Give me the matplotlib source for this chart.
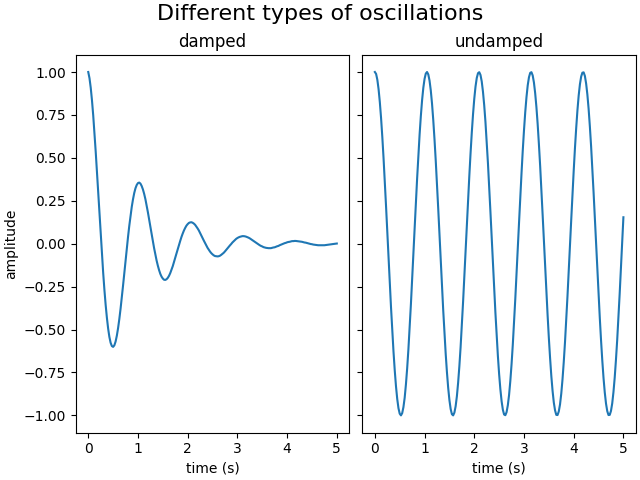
import matplotlib.pyplot as plt
import numpy as np

undamped = [
    1.000, 0.989, 0.955, 0.900, 0.825, 0.732, 0.622, 0.498, 0.362, 0.219,
    0.071, -0.079, -0.227, -0.370, -0.505, -0.628, -0.737, -0.830, -0.904, -0.958,
    -0.990, -1.000, -0.987, -0.952, -0.897, -0.820, -0.726, -0.615, -0.490, -0.354,
    -0.211, -0.062, 0.087, 0.235, 0.378, 0.512, 0.635, 0.743, 0.835, 0.908,
    0.960, 0.991, 1.000, 0.986, 0.950, 0.893, 0.816, 0.720, 0.608, 0.483,
    0.346, 0.203, 0.054, -0.096, -0.244, -0.386, -0.519, -0.641, -0.748, -0.839,
    -0.911, -0.963, -0.993, -1.000, -0.984, -0.947, -0.889, -0.810, -0.714, -0.602,
    -0.475, -0.338, -0.195, -0.045, 0.104, 0.251, 0.393, 0.526, 0.647, 0.754,
    0.844, 0.915, 0.965, 0.993, 0.999, 0.983, 0.945, 0.885, 0.806, 0.709,
    0.594, 0.469, 0.330, 0.186, 0.037, -0.112, -0.260, -0.401, -0.533, -0.654,
    -0.760, -0.848, -0.918, -0.967, -0.995, -0.999, -0.981, -0.941, -0.881, -0.800,
    -0.702, -0.588, -0.460, -0.322, -0.178, -0.028, 0.120, 0.267, 0.408, 0.541,
    0.660, 0.765, 0.853, 0.922, 0.969, 0.995, 0.999, 0.980, 0.939, 0.877,
    0.796, 0.697, 0.581, 0.454, 0.314, 0.169, 0.020, -0.129, -0.276, -0.416,
    -0.548, -0.666, -0.771, -0.857, -0.925, -0.971, -0.997, -0.998, -0.977, -0.936,
    -0.873, -0.790, -0.689, -0.574, -0.445, -0.306, -0.162, -0.012, 0.137, 0.284,
    0.424, 0.555, 0.672, 0.776, 0.862, 0.928, 0.973, 0.996, 0.998, 0.977,
    0.933, 0.869, 0.786, 0.684, 0.568, 0.439, 0.299, 0.153, 0.004, -0.146,
    -0.292, -0.432, -0.562, -0.679, -0.782, -0.866, -0.931, -0.975, -0.998, -0.997,
    -0.974, -0.930, -0.864, -0.780, -0.677, -0.561, -0.429, -0.291, -0.145, 0.005,
    0.154,
]

damped = [
    1.000, 0.964, 0.908, 0.835, 0.747, 0.646, 0.536, 0.418, 0.296, 0.175,
    0.055, -0.060, -0.168, -0.268, -0.356, -0.431, -0.494, -0.543, -0.577, -0.596,
    -0.601, -0.592, -0.570, -0.536, -0.492, -0.439, -0.379, -0.313, -0.244, -0.172,
    -0.100, -0.029, 0.039, 0.103, 0.161, 0.214, 0.258, 0.295, 0.323, 0.342,
    0.353, 0.356, 0.350, 0.336, 0.316, 0.290, 0.259, 0.222, 0.183, 0.142,
    0.099, 0.057, 0.015, -0.026, -0.063, -0.098, -0.128, -0.154, -0.176, -0.192,
    -0.203, -0.210, -0.211, -0.207, -0.199, -0.187, -0.171, -0.151, -0.131, -0.107,
    -0.083, -0.057, -0.032, -0.007, 0.016, 0.039, 0.059, 0.077, 0.092, 0.105,
    0.114, 0.121, 0.124, 0.125, 0.122, 0.117, 0.110, 0.100, 0.089, 0.077,
    0.062, 0.048, 0.033, 0.018, 0.004, -0.010, -0.024, -0.035, -0.046, -0.055,
    -0.062, -0.068, -0.072, -0.073, -0.074, -0.073, -0.070, -0.065, -0.059, -0.053,
    -0.045, -0.036, -0.028, -0.019, -0.010, -0.002, 0.007, 0.014, 0.021, 0.028,
    0.033, 0.037, 0.040, 0.042, 0.044, 0.044, 0.043, 0.041, 0.038, 0.035,
    0.031, 0.026, 0.021, 0.016, 0.011, 0.006, 0.001, -0.004, -0.009, -0.013,
    -0.016, -0.020, -0.022, -0.024, -0.025, -0.026, -0.026, -0.026, -0.024, -0.022,
    -0.021, -0.018, -0.015, -0.013, -0.009, -0.006, -0.003, 0.000, 0.003, 0.005,
    0.008, 0.010, 0.011, 0.013, 0.015, 0.015, 0.016, 0.016, 0.015, 0.014,
    0.013, 0.012, 0.011, 0.009, 0.007, 0.006, 0.004, 0.002, 0.000, -0.002,
    -0.003, -0.005, -0.006, -0.007, -0.008, -0.009, -0.009, -0.009, -0.009, -0.009,
    -0.009, -0.008, -0.007, -0.006, -0.005, -0.004, -0.003, -0.002, -0.001, 0.000,
    0.001,
]

time = np.linspace(0.0, 5.0, len(damped))

fig, (ax1, ax2) = plt.subplots(1, 2, layout='constrained', sharey=True,
                               figsize=(6.4, 4.8), dpi=100)

ax1.plot(time, damped)
ax1.set_title('damped')
ax1.set_xlabel('time (s)')
ax1.set_ylabel('amplitude')

ax2.plot(time, undamped)
ax2.set_title('undamped')
ax2.set_xlabel('time (s)')

fig.suptitle('Different types of oscillations', fontsize=16)

fig.savefig('out.png', dpi=100)
